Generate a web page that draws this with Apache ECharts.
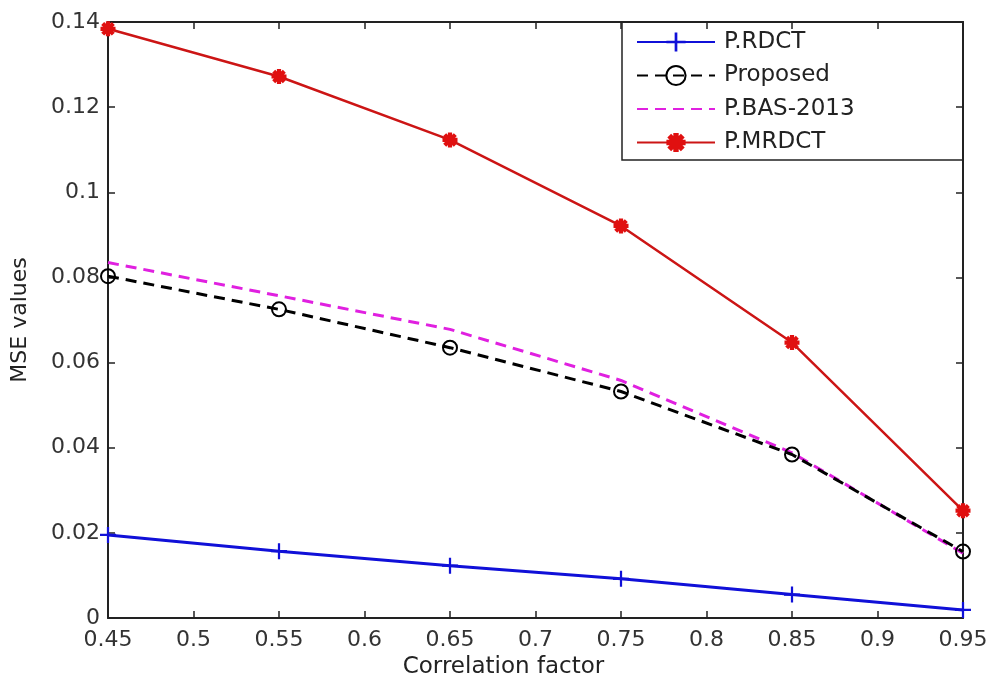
<!DOCTYPE html>
<html>
<head>
<meta charset="utf-8">
<script src="https://cdn.jsdelivr.net/npm/echarts@6/dist/echarts.min.js"></script>
<style>
  html, body { margin: 0; padding: 0; background: #ffffff; }
  #chart { width: 990px; height: 679px; }
</style>
</head>
<body>
<div id="chart"></div>
<script>
// Correlation factor (x) and MSE values (y) for each transform
const correlation = [0.45, 0.55, 0.65, 0.75, 0.85, 0.95];
const rdct      = [0.0195, 0.0157, 0.0123, 0.0092, 0.0055, 0.0019];
const proposed  = [0.0803, 0.0725, 0.0635, 0.0532, 0.0384, 0.0156];
const bas2013   = [0.0835, 0.0757, 0.0678, 0.0558, 0.0388, 0.0152];
const mrdct     = [0.1384, 0.1272, 0.1123, 0.0921, 0.0647, 0.0252];

// Axis ranges and tick steps
const xRange = [0.45, 0.95];
const xStep = 0.05;
const yRange = [0, 0.14];
const yStep = 0.02;

const FONT = 'DejaVu Sans';
const AXIS_COLOR = '#222';

// Marker shapes: a plus sign and an eight-armed asterisk
const PLUS = 'path://M-1,-0.14H1V0.14H-1Z M-0.14,-1H0.14V1H-0.14Z';
const ASTERISK = 'path://M-1,-0.28H1V0.28H-1Z M-0.28,-1H0.28V1H-0.28Z ' +
  'M-0.905,-0.509L-0.509,-0.905L0.905,0.509L0.509,0.905Z ' +
  'M-0.509,0.905L-0.905,0.509L0.509,-0.905L0.905,-0.509Z';

const pairs = ys => correlation.map((x, i) => [x, ys[i]]);
const fmt = v => String(+v.toFixed(2));

const tickCommon = { show: true, inside: true, length: 7, lineStyle: { color: AXIS_COLOR, width: 1.5 } };
const lineCommon = { show: true, onZero: false, lineStyle: { color: AXIS_COLOR, width: 2 } };

const chart = echarts.init(document.getElementById('chart'), null, { renderer: 'canvas' });

chart.setOption({
  animation: false,
  backgroundColor: '#ffffff',
  grid: { left: 108, right: 27, top: 22, bottom: 61, containLabel: false, outerBoundsMode: 'none' },
  legend: {
    orient: 'vertical',
    left: 622,
    top: 22,
    padding: [8, 14, 7, 14],
    itemWidth: 78,
    itemHeight: 24,
    itemGap: 9.5,
    data: [
      { name: 'P.RDCT' },
      { name: 'Proposed' },
      { name: 'P.BAS-2013', itemStyle: { color: 'rgba(0,0,0,0)', borderWidth: 0 } },
      { name: 'P.MRDCT' }
    ],
    textStyle: { fontFamily: FONT, fontSize: 23, color: '#222', lineHeight: 24, padding: [0, 0, 0, 4] }
  },
  graphic: [{
    type: 'rect',
    shape: { x: 622, y: 22, width: 341, height: 138 },
    style: { fill: 'none', stroke: AXIS_COLOR, lineWidth: 1.5 },
    z: 100
  }],
  xAxis: [{
    type: 'value',
    position: 'bottom',
    min: xRange[0], max: xRange[1], interval: xStep,
    name: 'Correlation factor',
    nameLocation: 'middle',
    nameGap: 33,
    nameTextStyle: { fontFamily: FONT, fontSize: 23, color: '#222', padding: [0, 64, 0, 0] },
    axisLine: lineCommon,
    axisTick: tickCommon,
    splitLine: { show: false },
    axisLabel: { margin: 11, fontFamily: FONT, fontSize: 22, color: '#333', formatter: fmt }
  }, {
    type: 'value',
    position: 'top',
    min: xRange[0], max: xRange[1], interval: xStep,
    axisLine: lineCommon,
    axisTick: tickCommon,
    splitLine: { show: false },
    axisLabel: { show: false }
  }],
  yAxis: [{
    type: 'value',
    position: 'left',
    min: yRange[0], max: yRange[1], interval: yStep,
    name: 'MSE values',
    nameLocation: 'middle',
    nameGap: 77,
    nameTextStyle: { fontFamily: FONT, fontSize: 22, color: '#222' },
    axisLine: lineCommon,
    axisTick: tickCommon,
    splitLine: { show: false },
    axisLabel: { margin: 8, fontFamily: FONT, fontSize: 22, color: '#333', formatter: fmt }
  }, {
    type: 'value',
    position: 'right',
    min: yRange[0], max: yRange[1], interval: yStep,
    axisLine: lineCommon,
    axisTick: tickCommon,
    splitLine: { show: false },
    axisLabel: { show: false }
  }],
  series: [{
    name: 'P.RDCT',
    type: 'line',
    data: pairs(rdct),
    symbol: PLUS,
    symbolSize: 16,
    itemStyle: { color: '#1010d8' },
    lineStyle: { color: '#1010d8', width: 3 },
    z: 3
  }, {
    name: 'Proposed',
    type: 'line',
    data: pairs(proposed),
    symbol: 'circle',
    symbolSize: 14,
    itemStyle: { color: 'rgba(255,255,255,0)', borderColor: '#000', borderWidth: 2 },
    lineStyle: { color: '#000', width: 3, type: [11, 7] },
    z: 4
  }, {
    name: 'P.BAS-2013',
    type: 'line',
    data: pairs(bas2013),
    symbol: 'none',
    itemStyle: { color: '#e020e0' },
    lineStyle: { color: '#e020e0', width: 3, type: [11, 7] },
    z: 3
  }, {
    name: 'P.MRDCT',
    type: 'line',
    data: pairs(mrdct),
    symbol: ASTERISK,
    symbolSize: 15,
    itemStyle: { color: '#e01010' },
    lineStyle: { color: '#cc1515', width: 2.5 },
    z: 3
  }]
});
</script>
</body>
</html>
